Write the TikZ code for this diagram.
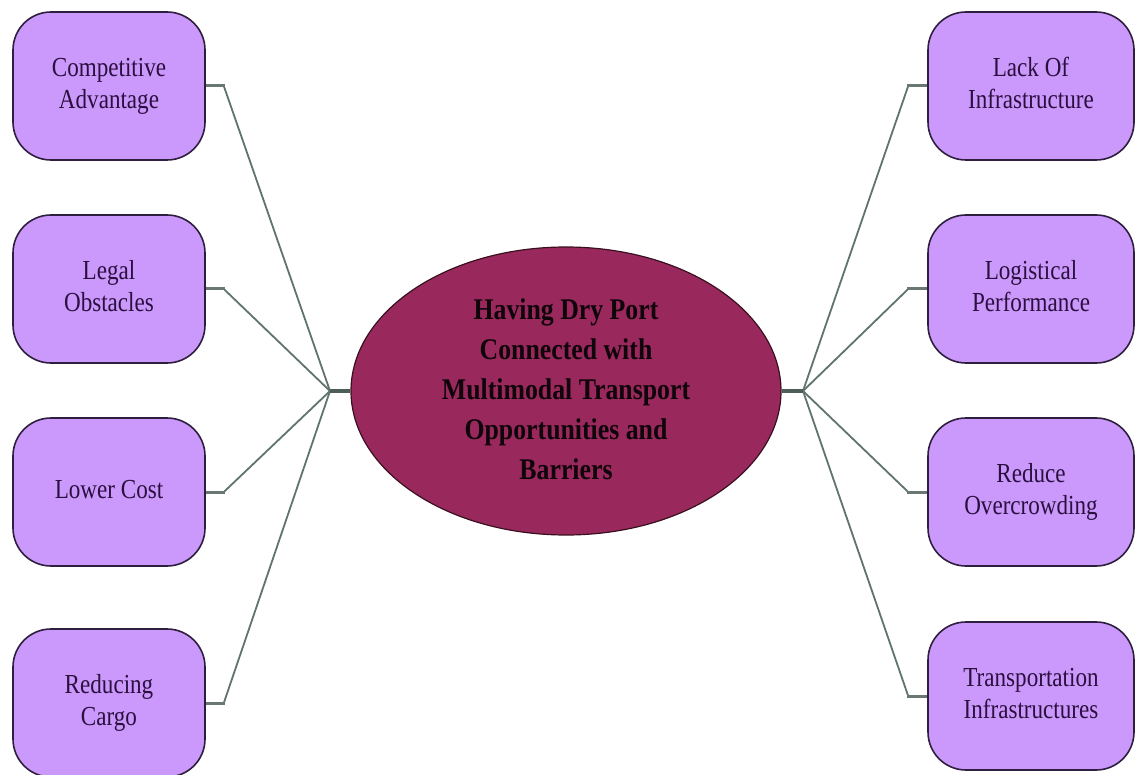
\documentclass[tikz,border=0pt]{standalone}
\usepackage{fontspec}
\usepackage{graphicx}
\usetikzlibrary{shapes.geometric}
\setmainfont{Liberation Serif}
\newcommand\leaftext[1]{\scalebox{0.84}[1]{\begin{tabular}{@{}c@{}}#1\end{tabular}}}
\newcommand\coretext[1]{\scalebox{0.86}[1]{\begin{tabular}{@{}c@{}}#1\end{tabular}}}
\definecolor{boxfill}{HTML}{CB99FC}
\definecolor{boxline}{HTML}{2E1F3E}
\definecolor{boxtext}{HTML}{2A0F3F}
\definecolor{ellfill}{HTML}{99295C}
\definecolor{ellline}{HTML}{3A1020}
\definecolor{connc}{HTML}{5F756C}
\begin{document}
\begin{tikzpicture}[x=1pt,y=-1pt,
  leaf/.style={draw=boxline, line width=1.6pt, fill=boxfill, rounded corners=38pt,
    minimum height=148pt, inner sep=0pt,
    text=boxtext, font=\fontsize{27.5}{32}\selectfont},
  leftleaf/.style={leaf, minimum width=192pt},
  rightleaf/.style={leaf, minimum width=206pt},
  core/.style={ellipse, draw=ellline, line width=1.2pt, fill=ellfill,
    minimum width=430pt, minimum height=288pt, inner sep=0pt,
    text=black!90!ellfill, font=\bfseries\fontsize{30}{40}\selectfont},
  conn/.style={draw=connc, line width=1.8pt},
  stub/.style={draw=connc!70!gray, line width=3pt}]
\useasboundingbox (0,0) rectangle (1137,775);
\fill[white] (0,0) rectangle (1137,775);

\node[core] (c) at (566,391) {\coretext{Having Dry Port\\Connected with\\Multimodal Transport\\Opportunities and\\Barriers}};

\coordinate (hl) at (330,391);
\coordinate (hr) at (803,391);

\node[leftleaf] (l1) at (109,86) {\leaftext{Competitive\\Advantage}};
\node[leftleaf] (l2) at (109,289) {\leaftext{Legal\\Obstacles}};
\node[leftleaf] (l3) at (109,492) {\leaftext{Lower Cost}};
\node[leftleaf] (l4) at (109,703) {\leaftext{Reducing\\Cargo}};

\node[rightleaf] (r1) at (1031,86) {\leaftext{Lack Of\\Infrastructure}};
\node[rightleaf] (r2) at (1031,289) {\leaftext{Logistical\\Performance}};
\node[rightleaf] (r3) at (1031,492) {\leaftext{Reduce\\Overcrowding}};
\node[rightleaf] (r4) at (1031,696) {\leaftext{Transportation\\Infrastructures}};

\foreach \n in {l1,l2,l3,l4}{
  \draw[conn] ([xshift=18pt]\n.east) -- (hl);
  \draw[stub] (\n.east) -- ([xshift=19pt]\n.east);
}
\foreach \n in {r1,r2,r3,r4}{
  \draw[conn] ([xshift=-19pt]\n.west) -- (hr);
  \draw[stub] (\n.west) -- ([xshift=-20pt]\n.west);
}
\draw[conn, line width=3.5pt, draw=connc!80!black] (hl) -- (c.west);
\draw[conn, line width=3.5pt, draw=connc!80!black] (c.east) -- (hr);
\end{tikzpicture}
\end{document}
